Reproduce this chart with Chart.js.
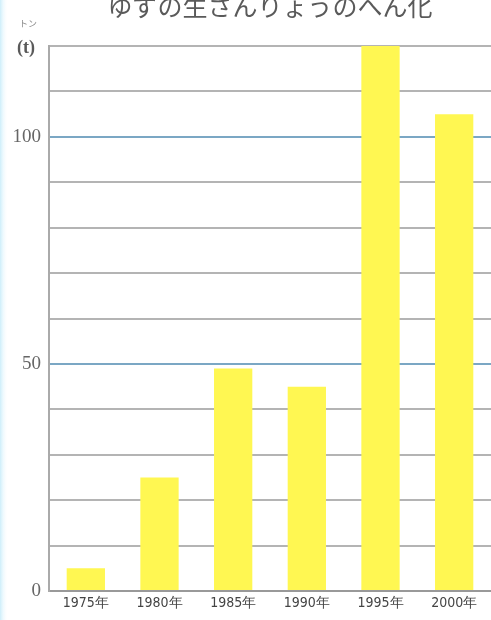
<!DOCTYPE html>
<html><head><meta charset="utf-8">
<script src="https://cdn.jsdelivr.net/npm/chart.js@4"></script>
<style>html,body{margin:0;padding:0;background:#fff;}#wrap{width:491px;height:620px;position:relative;}</style>
</head><body><div id="wrap"><canvas id="c" width="491" height="620"></canvas></div>
<script>
const categories = ["1975年","1980年","1985年","1990年","1995年","2000年"];
const production = [5, 25, 49, 45, 120, 105];
const yTickLabels = [0, 50, 100];
const titleText = "ゆずの生さんりょうのへん化";
const unitText = "(t)";
const unitRuby = "トン";

const decor = {
  id: 'decor',
  beforeDraw(chart) {
    const ctx = chart.ctx;
    ctx.save();
    const g = ctx.createLinearGradient(0,0,8,0);
    g.addColorStop(0,'#cdeefa'); g.addColorStop(1,'rgba(255,255,255,0)');
    ctx.fillStyle = g; ctx.fillRect(0,0,8,620);
    ctx.restore();
  },
  afterDraw(chart) {
    const ctx = chart.ctx;
    ctx.save();
    ctx.fillStyle = '#5a5a5a';
    ctx.textAlign = 'center'; ctx.textBaseline = 'middle';
    ctx.font = '25px "Noto Sans CJK JP"';
    ctx.fillText(titleText, 270, 6);
    ctx.font = 'bold 18px "Liberation Serif"';
    ctx.fillText(unitText, 26, 48);
    ctx.font = '9px "Noto Sans CJK JP"';
    ctx.fillStyle = '#888';
    ctx.fillText(unitRuby, 28, 24);
    ctx.restore();
  }
};

new Chart(document.getElementById('c'), {
  type: 'bar',
  data: { labels: categories, datasets: [{ data: production, backgroundColor: '#fff752', borderWidth: 0, barPercentage: 0.52, categoryPercentage: 1 }] },
  options: {
    responsive: false, animation: false,
    layout: { padding: { top: 46, left: 0, right: 0, bottom: 0 } },
    plugins: { legend: { display: false }, tooltip: { enabled: false } },
    scales: {
      x: {
        grid: { display: false, drawTicks: false },
        border: { color: '#999', width: 2 },
        ticks: { color: '#444', font: { size: 14, family: 'DejaVu Sans Condensed, Liberation Sans' }, padding: 4, maxRotation: 0 },
        afterFit(s) { s.height = 29; }
      },
      y: {
        min: 0, max: 120,
        border: { color: '#aaa', width: 2 },
        grid: {
          drawTicks: false,
          lineWidth: 2,
          color: (c) => (c.tick && (c.tick.value === 50 || c.tick.value === 100)) ? '#7ba7c4' : '#b4b4b4'
        },
        ticks: {
          stepSize: 10, padding: 8, color: '#666',
          font: { size: 19, family: 'Liberation Serif' },
          callback: (v) => yTickLabels.includes(v) ? String(v) : ''
        },
        afterFit(s) { s.width = 49; }
      }
    }
  },
  plugins: [decor]
});
</script></body></html>
